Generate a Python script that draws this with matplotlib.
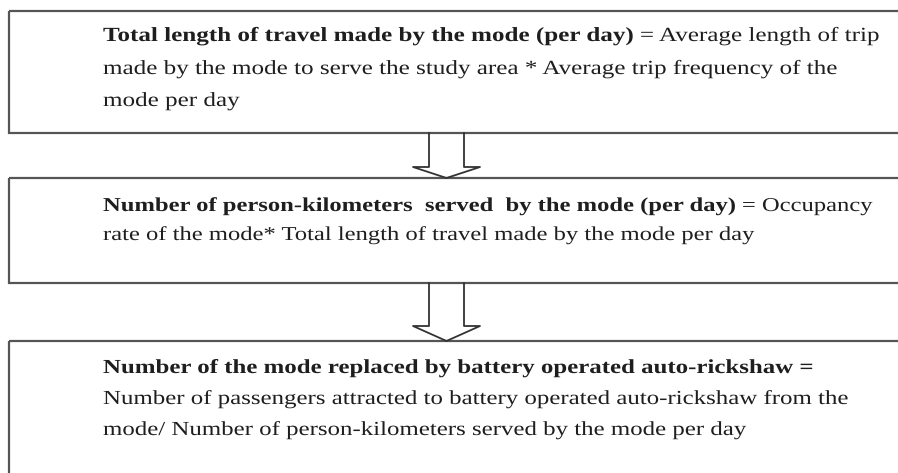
import matplotlib
matplotlib.use("Agg")
import matplotlib.pyplot as plt
from matplotlib.patches import Rectangle
from matplotlib.lines import Line2D
from matplotlib.patheffects import AbstractPathEffect
from matplotlib.transforms import Affine2D

# ---- content ----
box1_lines = [
    [("Total length of travel made by the mode (per day)", True), (" = Average length of trip", False)],
    [("made by the mode to serve the study area * Average trip frequency of the", False)],
    [("mode per day", False)],
]
box2_lines = [
    [("Number of person-kilometers  served  by the mode (per day)", True), (" = Occupancy", False)],
    [("rate of the mode* Total length of travel made by the mode per day", False)],
]
box3_lines = [
    [("Number of the mode replaced by battery operated auto-rickshaw =", True)],
    [("Number of passengers attracted to battery operated auto-rickshaw from the", False)],
    [("mode/ Number of person-kilometers served by the mode per day", False)],
]

W, H = 898, 473
fig = plt.figure(figsize=(W / 100, H / 100), dpi=100)
ax = fig.add_axes([0, 0, 1, 1])
ax.set_xlim(0, W)
ax.set_ylim(H, 0)
ax.axis("off")

EDGE = "#555555"
TXT = "#1e1e1e"
FONT = "Liberation Serif"
X0 = 103


class VScale(AbstractPathEffect):
    """Squash glyphs vertically about the baseline (reference text is wide & low)."""
    def __init__(self, s):
        super().__init__()
        self.s = s

    def draw_path(self, renderer, gc, tpath, affine, rgbFace=None):
        renderer.draw_path(gc, tpath, Affine2D().scale(1, self.s) + affine, rgbFace)


boxes = [(9, 11, 133), (9, 178, 283), (9, 341, 490)]
for x0, y0, y1 in boxes:
    ax.add_patch(Rectangle((x0, y0), W + 20 - x0, y1 - y0, fill=False,
                           edgecolor=EDGE, linewidth=1.6, clip_on=True))

def arrow(ytop, yshaft, ytip):
    xs = [429, 429, 413, 446.5, 480, 464, 464]
    ys = [ytop, yshaft, yshaft, ytip, yshaft, yshaft, ytop]
    ax.add_line(Line2D(xs, ys, color="#333333", linewidth=1.3))

arrow(133, 167, 178)
arrow(283, 326, 341)

fig.canvas.draw()
renderer = fig.canvas.get_renderer()

def line_width(segs, size):
    w = 0
    for s, bold in segs:
        t = ax.text(0, 0, s, fontsize=size, family=FONT,
                    fontweight="bold" if bold else "normal")
        w += t.get_window_extent(renderer=renderer).width
        t.remove()
    return w

def draw_line(segs, x, y, size):
    cx = x
    for s, bold in segs:
        t = ax.text(cx, y, s, fontsize=size, family=FONT,
                    fontweight="bold" if bold else "normal",
                    color=TXT, va="baseline", ha="left",
                    path_effects=[VScale(0.8)])
        cx += t.get_window_extent(renderer=renderer).width

def draw_box(lines, baselines, ref_idx, target_w):
    size = 14 * target_w / line_width(lines[ref_idx], 14)
    for segs, y in zip(lines, baselines):
        draw_line(segs, X0, y, size)

draw_box(box1_lines, [41, 74, 106], 0, 882 - X0)
draw_box(box2_lines, [211, 240], 0, 875 - X0)
draw_box(box3_lines, [373, 404, 435], 1, 853 - X0)

fig.savefig("out.png", dpi=100, facecolor="white")
